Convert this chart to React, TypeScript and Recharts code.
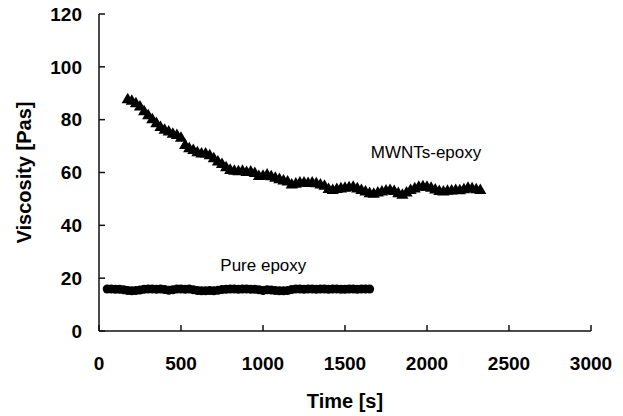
import React from "react";
import {
  ScatterChart,
  Scatter,
  XAxis,
  YAxis,
  ZAxis,
  ReferenceDot,
} from "recharts";

// MWNTs-epoxy series (time [s], viscosity [Pas])
const mwntTimes = [
  175, 200, 225, 250, 275, 300, 325, 350, 375, 400, 425, 450, 475, 500, 525, 550,
  575, 600, 625, 650, 675, 700, 725, 750, 775, 800, 825, 850, 875, 900, 925, 950,
  975, 1000, 1025, 1050, 1075, 1100, 1125, 1150, 1175, 1200, 1225, 1250, 1275, 1300,
  1325, 1350, 1375, 1400, 1425, 1450, 1475, 1500, 1525, 1550, 1575, 1600, 1625, 1650,
  1675, 1700, 1725, 1750, 1775, 1800, 1825, 1850, 1875, 1900, 1925, 1950, 1975, 2000,
  2025, 2050, 2075, 2100, 2125, 2150, 2175, 2200, 2225, 2250, 2275, 2300, 2325,
];
const mwntViscosity = [
  87.5, 87, 86, 84.8, 83, 81.5, 80, 78.5, 77, 76, 75.3, 74.5, 74, 73, 70.2, 69,
  68.3, 67.5, 67, 67, 66.3, 65.2, 64, 63, 61.8, 60.8, 60.5, 60.3, 60.5, 60, 60.2, 59.6,
  58.5, 58.6, 59, 58.4, 57.8, 57.3, 56.8, 56.4, 55.3, 55.6, 56, 56, 55.8, 56,
  55.7, 55.3, 54.8, 53.6, 53.2, 53.6, 53.8, 54, 54.2, 54.4, 53.8, 53.2, 52.6, 52,
  51.8, 52.2, 52.6, 53, 53.2, 52.8, 52, 51.4, 52.2, 53.2, 53.8, 54.4, 54.6, 54.4,
  54, 53.4, 52.8, 52.6, 52.9, 53, 53.2, 53.1, 53.5, 54, 53.8, 53.5, 53.2,
];

// Pure epoxy series
const pureTimes = [
  50, 75, 100, 125, 150, 175, 200, 225, 250, 275, 300, 325, 350, 375, 400, 425, 450,
  475, 500, 525, 550, 575, 600, 625, 650, 675, 700, 725, 750, 775, 800, 825, 850, 875,
  900, 925, 950, 975, 1000, 1025, 1050, 1075, 1100, 1125, 1150, 1175, 1200, 1225, 1250,
  1275, 1300, 1325, 1350, 1375, 1400, 1425, 1450, 1475, 1500, 1525, 1550, 1575, 1600,
  1625, 1650,
];
const pureViscosity = [
  15.9, 15.9, 15.8, 15.8, 15.6, 15.3, 15.2, 15.3, 15.5, 15.8, 15.9, 15.9, 15.8, 15.9, 15.7, 15.4, 15.6,
  15.9, 15.9, 15.8, 15.9, 15.6, 15.3, 15.2, 15.2, 15.3, 15.2, 15.4, 15.7, 15.8, 15.9, 15.9, 15.8, 15.9,
  15.9, 15.8, 15.8, 15.6, 15.3, 15.6, 15.5, 15.3, 15.2, 15.2, 15.3, 15.7, 15.9, 15.9, 15.8,
  15.9, 15.9, 15.8, 15.9, 15.9, 15.8, 15.9, 15.9, 15.8, 15.8, 15.9, 15.9, 15.8, 15.9,
  15.9, 15.9,
];

const xTicks = [0, 500, 1000, 1500, 2000, 2500, 3000];
const yTicks = [0, 20, 40, 60, 80, 100, 120];

const seriesNames = ["MWNTs-epoxy", "Pure epoxy"];
const axisTitles = { x: "Time [s]", y: "Viscosity [Pas]" };

const mwntData = mwntTimes.map((t, i) => ({ t, v: mwntViscosity[i] }));
const pureData = pureTimes.map((t, i) => ({ t, v: pureViscosity[i] }));

const FONT = "'Liberation Sans', Arial, sans-serif";
const axisStroke = { stroke: "#111", strokeWidth: 1.5 };

const Y_MARGIN = 11;
const X_MARGIN = 20;
const TICK_LEN = 6;

function YTick(props: any) {
  const { x, y, payload } = props;
  const axisX = x + TICK_LEN + Y_MARGIN;
  return (
    <g>
      <path d={`M${axisX},${y}h${TICK_LEN}`} stroke="#111" strokeWidth={1.5} fill="none" />
      <text
        x={x}
        y={y}
        dy="0.355em"
        textAnchor="end"
        fontFamily={FONT}
        fontSize={19}
        fontWeight={700}
        fill="#000"
      >
        {payload.value}
      </text>
    </g>
  );
}

function XTick(props: any) {
  const { x, y, payload } = props;
  const axisY = y - TICK_LEN - X_MARGIN;
  return (
    <g>
      <path d={`M${x},${axisY}v${-TICK_LEN}`} stroke="#111" strokeWidth={1.5} fill="none" />
      <text
        x={x}
        y={y}
        dy="0.71em"
        textAnchor="middle"
        fontFamily={FONT}
        fontSize={19}
        fontWeight={700}
        fill="#000"
      >
        {payload.value}
      </text>
    </g>
  );
}

export default function App() {
  return (
    <div style={{ position: "absolute", left: 0, top: 0, background: "#fff" }}>
      <ScatterChart
        width={623}
        height={416}
        margin={{ top: 14, right: 32, left: 0, bottom: 0 }}
      >
        <XAxis
          dataKey="t"
          type="number"
          domain={[0, 3000]}
          ticks={xTicks}
          interval={0}
          tickSize={TICK_LEN}
          tickMargin={X_MARGIN}
          tick={<XTick />}
          tickLine={false}
          axisLine={axisStroke}
          height={85}
          label={{
            value: axisTitles.x,
            position: "insideBottom",
            offset: 8,
            style: { fontFamily: FONT, fontSize: 20, fontWeight: 700, fill: "#000" },
          }}
        />
        <XAxis
          xAxisId="top"
          orientation="top"
          type="number"
          domain={[0, 3000]}
          height={0}
          tick={false}
          tickLine={false}
          axisLine={axisStroke}
        />
        <YAxis
          dataKey="v"
          type="number"
          domain={[0, 120]}
          ticks={yTicks}
          interval={0}
          tickSize={TICK_LEN}
          tickMargin={Y_MARGIN}
          tick={<YTick />}
          tickLine={false}
          axisLine={axisStroke}
          width={99}
          label={{
            value: axisTitles.y,
            angle: -90,
            position: "insideLeft",
            offset: 24,
            style: {
              fontFamily: FONT,
              fontSize: 20,
              fontWeight: 700,
              fill: "#000",
              textAnchor: "middle",
            },
          }}
        />
        <YAxis
          yAxisId="right"
          orientation="right"
          type="number"
          domain={[0, 120]}
          width={0}
          tick={false}
          tickLine={false}
          axisLine={axisStroke}
        />
        <ZAxis range={[28, 28]} />
        <Scatter
          name={seriesNames[0]}
          data={mwntData}
          shape="triangle"
          fill="#000"
          isAnimationActive={false}
        />
        <Scatter
          name={seriesNames[1]}
          data={pureData}
          shape="circle"
          fill="#000"
          isAnimationActive={false}
        />
        <ReferenceDot
          x={1994}
          y={67.8}
          r={0}
          fill="none"
          stroke="none"
          label={{
            value: seriesNames[0],
            position: "center",
            style: { fontFamily: FONT, fontSize: 17, fill: "#000" },
          }}
        />
        <ReferenceDot
          x={1002}
          y={25}
          r={0}
          fill="none"
          stroke="none"
          label={{
            value: seriesNames[1],
            position: "center",
            style: { fontFamily: FONT, fontSize: 17, fill: "#000" },
          }}
        />
      </ScatterChart>
    </div>
  );
}
